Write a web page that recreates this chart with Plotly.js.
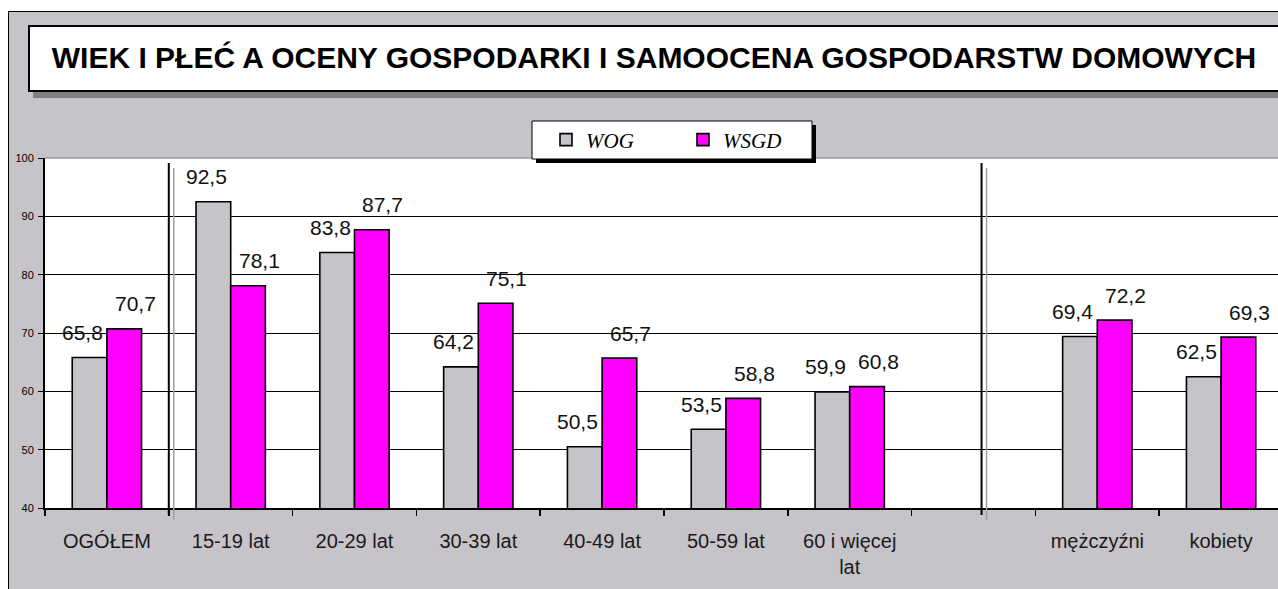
<!DOCTYPE html>
<html>
<head>
<meta charset="utf-8">
<script src="https://cdn.plot.ly/plotly-3.0.1.min.js"></script>
<style>
html,body{margin:0;padding:0;overflow:hidden;background:#fff;}
#chart{width:1278px;height:589px;}
</style>
</head>
<body>
<div id="chart"></div>
<script>
// ---- data ----
const categories = ['OGÓŁEM', '15-19 lat', '20-29 lat', '30-39 lat', '40-49 lat', '50-59 lat', '60 i więcej<br>lat', ' ', 'mężczyźni', 'kobiety'];
const wogValues  = [65.8, 92.5, 83.8, 64.2, 50.5, 53.5, 59.9, null, 69.4, 62.5];
const wsgdValues = [70.7, 78.1, 87.7, 75.1, 65.7, 58.8, 60.8, null, 72.2, 69.3];
const seriesNames = ['WOG', 'WSGD'];
const yTicks = [40, 50, 60, 70, 80, 90, 100];
const titleText = 'WIEK I PŁEĆ A OCENY GOSPODARKI I SAMOOCENA GOSPODARSTW DOMOWYCH';

// ---- layout helpers (pixel -> paper) ----
const W = 1278, H = 589;
const PL = 45, PT = 158, PB = 508, PR = 1278;
const plotW = PR - PL, plotH = PB - PT;
const px = v => (v - PL) / plotW;
const py = v => (PB - v) / plotH;

const GREY = '#c6c4c8';
const MAGENTA = '#ff00ff';
const sans = 'Liberation Sans, Arial, sans-serif';

const fmt = v => v.toFixed(1).replace('.', ',');

const traces = [
  {type: 'bar', name: seriesNames[0], x: categories, y: wogValues,
   marker: {color: GREY, line: {color: '#000', width: 1.6}}, hoverinfo: 'skip'},
  {type: 'bar', name: seriesNames[1], x: categories, y: wsgdValues,
   marker: {color: MAGENTA, line: {color: '#000', width: 1.6}}, hoverinfo: 'skip'}
];

const annotations = [];
const halfBar = 0.14;
[[wogValues, -halfBar, -7], [wsgdValues, halfBar, 11]].forEach(([vals, off, xs]) => {
  vals.forEach((v, i) => {
    if (v === null) return;
    annotations.push({
      x: i + off, y: v, xref: 'x', yref: 'y', text: fmt(v), showarrow: false,
      xanchor: 'center', yanchor: 'middle', yshift: 25, xshift: xs,
      font: {family: sans, size: 21, color: '#111'}
    });
  });
});

const unit = 1 / 123.8; // category units per pixel
const shapes = [
  // white outside frame
  {type: 'rect', xref: 'paper', yref: 'paper', x0: px(0), x1: px(W), y0: py(0), y1: py(11), fillcolor: '#fff', line: {width: 0}, layer: 'below'},
  {type: 'rect', xref: 'paper', yref: 'paper', x0: px(0), x1: px(8), y0: py(0), y1: py(H), fillcolor: '#fff', line: {width: 0}, layer: 'below'},
  // frame lines
  {type: 'line', xref: 'paper', yref: 'paper', x0: px(8), x1: px(W), y0: py(11.5), y1: py(11.5), line: {color: '#000', width: 1}},
  {type: 'line', xref: 'paper', yref: 'paper', x0: px(8.5), x1: px(8.5), y0: py(11), y1: py(H), line: {color: '#000', width: 1}},
  // title box shadow + box
  {type: 'rect', xref: 'paper', yref: 'paper', x0: px(33), x1: px(1300), y0: py(91), y1: py(98), fillcolor: '#808080', line: {width: 0}},
  {type: 'rect', xref: 'paper', yref: 'paper', x0: px(29), x1: px(1300), y0: py(26), y1: py(91), fillcolor: '#fff', line: {color: '#000', width: 2}},
  // plot top border
  {type: 'line', xref: 'paper', yref: 'paper', x0: 0, x1: 1, y0: 1, y1: 1, line: {color: '#9a9a9a', width: 1.5}, layer: 'above'},
  // legend shadow + box
  {type: 'rect', xref: 'paper', yref: 'paper', x0: px(536), x1: px(816), y0: py(125), y1: py(163), fillcolor: '#000', line: {width: 0}, layer: 'above'},
  {type: 'rect', xref: 'paper', yref: 'paper', x0: px(532), x1: px(812), y0: py(121), y1: py(159), fillcolor: '#fff', line: {color: '#000', width: 1}, layer: 'above'},
  // separator double lines
  {type: 'line', xref: 'x', yref: 'paper', x0: 0.5, x1: 0.5, y0: py(515), y1: py(163), line: {color: '#000', width: 2}, layer: 'above'},
  {type: 'line', xref: 'x', yref: 'paper', x0: 0.5 + 5 * unit, x1: 0.5 + 5 * unit, y0: py(520), y1: py(168), line: {color: '#a0a0a0', width: 1.5}, layer: 'above'},
  {type: 'line', xref: 'x', yref: 'paper', x0: 7.065, x1: 7.065, y0: py(515), y1: py(163), line: {color: '#000', width: 2}, layer: 'above'},
  {type: 'line', xref: 'x', yref: 'paper', x0: 7.065 + 5 * unit, x1: 7.065 + 5 * unit, y0: py(520), y1: py(168), line: {color: '#a0a0a0', width: 1.5}, layer: 'above'}
];

const layout = {
  width: W, height: H, autosize: false,
  paper_bgcolor: GREY, plot_bgcolor: '#fff',
  margin: {l: PL, r: W - PR, t: PT, b: H - PB, pad: 0},
  barmode: 'group', bargap: 0.44, bargroupgap: 0,
  title: {
    text: titleText, x: 654 / W, xanchor: 'center', y: 1 - 57 / H, yanchor: 'middle',
    xref: 'container', yref: 'container',
    font: {family: sans, size: 30, weight: 'bold', color: '#000'}
  },
  showlegend: true,
  legend: {
    orientation: 'h', x: px(546), xanchor: 'left', y: py(140), yanchor: 'middle',
    bgcolor: 'rgba(0,0,0,0)', borderwidth: 0, entrywidth: 92, entrywidthmode: 'pixels',
    font: {family: 'Liberation Serif, Times New Roman, serif', size: 21, style: 'italic', color: '#000'},
    traceorder: 'normal'
  },
  xaxis: {
    type: 'category', range: [-0.5, 9.5 - 5 * unit], fixedrange: true,
    showline: true, linecolor: '#000', linewidth: 1.5,
    ticks: 'outside', tickson: 'boundaries', ticklen: 6, tickcolor: '#000', tickwidth: 1.5,
    showgrid: false, ticklabelstandoff: 14,
    tickfont: {family: sans, size: 20, color: '#1a1a1a'}
  },
  yaxis: {
    range: [40, 100], tickvals: yTicks, fixedrange: true,
    showline: true, linecolor: '#000', linewidth: 2,
    ticks: 'outside', ticklen: 5, tickcolor: '#000', tickwidth: 1,
    showgrid: true, gridcolor: '#000', gridwidth: 1, zeroline: false,
    ticklabelstandoff: 2,
    tickfont: {family: sans, size: 11, color: '#000'}
  },
  shapes: shapes,
  annotations: annotations
};

Plotly.newPlot('chart', traces, layout, {displayModeBar: false, staticPlot: true});
</script>
</body>
</html>
